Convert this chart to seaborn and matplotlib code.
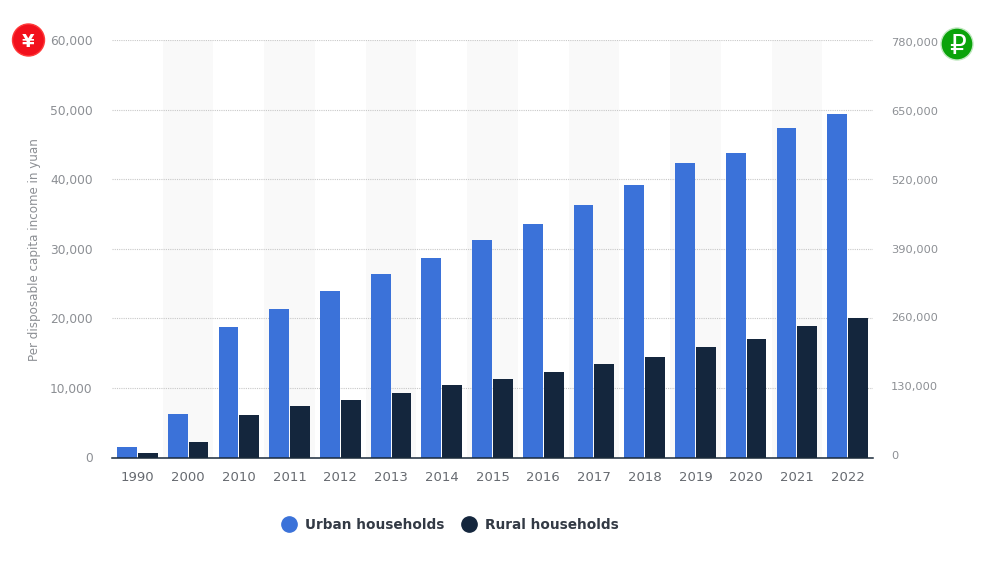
import pandas as pd
import matplotlib
matplotlib.use("Agg")
import matplotlib.pyplot as plt
import seaborn as sns
from matplotlib.lines import Line2D
from matplotlib.patches import Circle
from matplotlib.transforms import IdentityTransform

# Values
years = ["1990", "2000", "2010", "2011", "2012", "2013", "2014", "2015",
         "2016", "2017", "2018", "2019", "2020", "2021", "2022"]
urban = [1510, 6280, 18700, 21400, 24000, 26400, 28700, 31200,
         33500, 36300, 39200, 42300, 43800, 47300, 49300]
rural = [690, 2250, 6100, 7400, 8200, 9300, 10400, 11300,
         12300, 13400, 14500, 15900, 17100, 18900, 20000]
yuan_ticks = [0, 10000, 20000, 30000, 40000, 50000, 60000]
ruble_ticks = [0, 130000, 260000, 390000, 520000, 650000, 780000]

BLUE = "#3b72d9"
NAVY = "#14263d"
W, H = 1000, 563


def add_icon(fig, x, y, face, edge, symbol, size, weight):
    # Round currency badge, placed in pixels from the top left
    fig.add_artist(Circle((x, H - y), 16, transform=IdentityTransform(),
                          facecolor=face, edgecolor=edge, linewidth=1))
    fig.text(x / W, 1 - y / H, symbol, color="white", fontsize=size, fontweight=weight,
             ha="center", va="center_baseline")


sns.set_theme(style="white")
plt.rcParams["font.family"] = ["DejaVu Sans"]

df = pd.DataFrame({"year": years * 2,
                   "income": urban + rural,
                   "household": ["Urban households"] * len(years) + ["Rural households"] * len(years)})

fig = plt.figure(figsize=(10, 5.63), dpi=100)
ax = fig.add_axes([112 / W, 1 - 457.5 / H, 761 / W, 417.5 / H])

sns.barplot(data=df, x="year", y="income", hue="household", palette=[BLUE, NAVY],
            width=0.82, gap=0.05, saturation=1, linewidth=0, legend=False, zorder=3, ax=ax)

# Alternating shaded bands, starting at 2000
for i in range(1, len(years), 2):
    ax.axvspan(i - 0.5, i + 0.5, color="#f9f9f9", lw=0, zorder=0)

ax.set_xlim(-0.5, len(years) - 0.5)
ax.set_ylim(0, 60000)
ax.set_yticks(yuan_ticks)
ax.set_yticklabels([f"{v:,}" for v in yuan_ticks], fontsize=8.8, color="#8c8f94")
ax.tick_params(axis="y", length=0, pad=14)
ax.tick_params(axis="x", length=0, pad=10, labelsize=9.5, labelcolor="#666a70")
ax.set_xlabel("")
ax.set_ylabel("Per disposable capita income in yuan", fontsize=8.6, color="#8c8f94")
ax.yaxis.set_label_coords((41 - 112) / 761, 0.499)
ax.grid(axis="y", color="#c8c8c8", linestyle=(0, (1, 1)), linewidth=0.8, zorder=1)
ax.set_axisbelow(True)
sns.despine(ax=ax, left=True, right=True, top=True)
ax.spines["bottom"].set_color("#1a2a3a")
ax.spines["bottom"].set_linewidth(1.1)
ax.spines["bottom"].set_zorder(5)

# Right axis in rubles, sits about 2px inside the yuan scale
ax2 = ax.twinx()
ax2.set_ylim(-4720, 783780)
ax2.set_yticks(ruble_ticks)
ax2.set_yticklabels([f"{v:,}" for v in ruble_ticks], fontsize=8.2, color="#8c8f94")
ax2.tick_params(axis="y", length=0, pad=13)
ax2.grid(False)
for spine in ax2.spines.values():
    spine.set_visible(False)

handles = [Line2D([], [], marker="o", linestyle="", markersize=11, color=BLUE, label="Urban households"),
           Line2D([], [], marker="o", linestyle="", markersize=11, color=NAVY, label="Rural households")]
fig.legend(handles=handles, loc="center", bbox_to_anchor=(447 / W, 1 - 525 / H), ncol=2, frameon=False,
           prop={"size": 9.8, "weight": "bold"}, labelcolor="#333a45",
           handletextpad=0.2, columnspacing=0.8)

add_icon(fig, 28.5, 40, "#f2101c", "#ff3a3a", "¥", 13, "bold")
add_icon(fig, 957, 44, "#0aa30a", "#bfe8bf", "₽", 19, "normal")

fig.savefig("out.png", dpi=100)
plt.close(fig)
